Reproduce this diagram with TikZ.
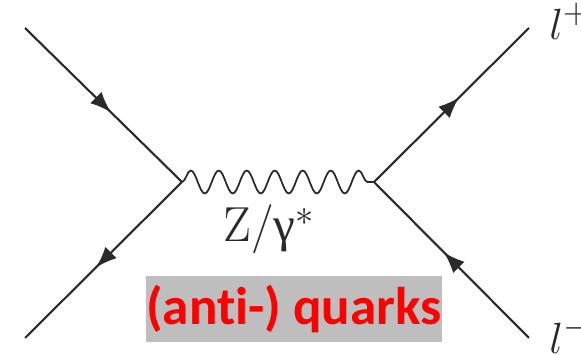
\documentclass[tikz,border=0pt]{standalone}
\usepackage{fontspec}
\newfontfamily\boxfont[Ligatures=NoCommon]{Carlito}
\newfontfamily\greekfont{Liberation Serif}
\usetikzlibrary{decorations.markings,decorations.pathmorphing,arrows.meta,positioning}
\definecolor{linegray}{HTML}{2A2A2A}
\definecolor{boxgray}{HTML}{BEBEBE}
\tikzset{
    fermion/.style={linegray,line width=1.2pt,postaction={decorate},
        decoration={markings,mark=at position 0.55 with {\arrow{Latex[length=4.2mm,width=3.2mm]}}}},
    boson/.style={linegray,line width=1.0pt,decorate,
        decoration={snake,segment length=0.56cm,amplitude=0.23cm,pre length=0pt,post length=0pt}},
    vlabel/.style={inner sep=0pt,text=linegray,font=\fontsize{28}{32}\selectfont},
}
\begin{document}
\begin{tikzpicture}
    \useasboundingbox (0,0) rectangle (11.62,7.1);
    % Vertices and free ends of the lines
    \coordinate (vleft) at (3.64,3.46);
    \coordinate (vright) at (7.48,3.46);
    \coordinate (intop) at (0.5,6.54);
    \coordinate (inbot) at (0.5,0.34);
    \coordinate (outtop) at (10.58,6.54);
    \coordinate (outbot) at (10.58,0.34);
    % Fermion lines
    \draw[fermion] (intop) -- (vleft);
    \draw[fermion] (vleft) -- (inbot);
    \draw[fermion] (vright) -- (outtop);
    \draw[fermion] (outbot) -- (vright);
    % Exchanged boson
    \draw[boson] (vleft) -- (vright);
    % Labels
    \node[vlabel] (zlabel) at (5.38,2.52) {Z/{\greekfont γ}$^{*}$};
    \node[vlabel,anchor=west] (lplus) at (10.98,6.68) {$l^{+}$};
    \node[vlabel,anchor=west] (lminus) at (10.98,0.4) {$l^{-}$};
    % Grey box with the red text
    \node[fill=boxgray,text=red,minimum width=5.92cm,minimum height=1.32cm,inner sep=0pt,
        font=\boxfont\bfseries\fontsize{30.2}{34}\selectfont] (quarks) at (5.88,0.92) {(anti-) quarks};
\end{tikzpicture}
\end{document}
